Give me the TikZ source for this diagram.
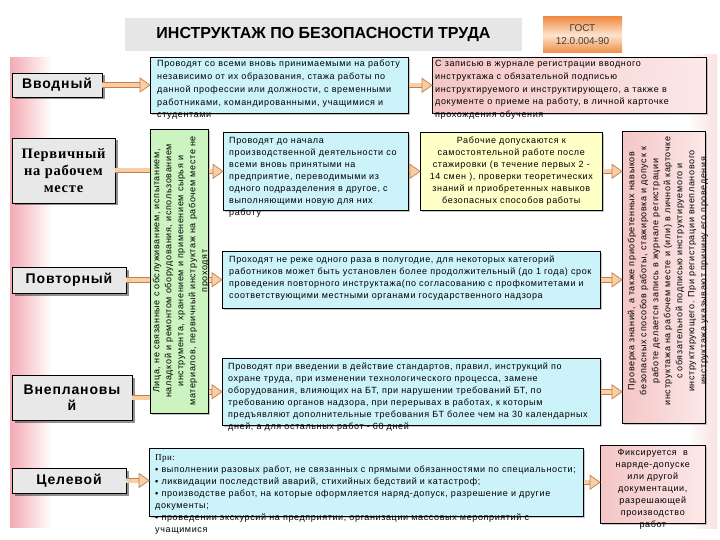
\documentclass[tikz,border=0pt]{standalone}
\usepackage{fontspec}
\setmainfont{Liberation Sans}
\newfontfamily\bodyf{Liberation Sans}[LetterSpace=7]
\newfontfamily\serifb{Liberation Serif}[LetterSpace=5]
\newfontfamily\labf{Liberation Sans}[LetterSpace=6]
\usetikzlibrary{calc,shadows}
\definecolor{bluefill}{RGB}{204,242,250}
\definecolor{pinkA}{RGB}{244,198,198}
\definecolor{pinkB}{RGB}{252,232,232}
\definecolor{yelfill}{RGB}{255,255,200}
\definecolor{grnfill}{RGB}{204,244,192}
\definecolor{grayfill}{RGB}{232,232,232}
\definecolor{peach}{RGB}{248,206,164}
\definecolor{arredge}{RGB}{196,126,78}
\definecolor{titlegray}{RGB}{230,230,230}
\definecolor{gostor}{RGB}{240,140,70}
\definecolor{gostlight}{RGB}{253,228,205}
\definecolor{strippink}{RGB}{243,170,178}
\tikzset{
  base/.style={draw=black, line width=0.6pt, inner sep=0pt, anchor=north west},
  bluebox/.style={base, fill=bluefill, drop shadow={shadow xshift=1.5pt, shadow yshift=-1.5pt, fill=black!45}},
  pinkbox/.style={base, left color=pinkA, right color=pinkB, drop shadow={shadow xshift=1.5pt, shadow yshift=-1.5pt, fill=black!45}},
  yelbox/.style={base, fill=yelfill, drop shadow={shadow xshift=1.5pt, shadow yshift=-1.5pt, fill=black!45}},
  grnbox/.style={base, fill=grnfill, drop shadow={shadow xshift=1.5pt, shadow yshift=-1.5pt, fill=black!45}},
  lbox/.style={draw=black, line width=0.6pt, fill=grayfill, inner sep=0pt, align=center,
    font=\labf\fontsize{14}{16}\selectfont\bfseries,
    drop shadow={shadow xshift=2.5pt, shadow yshift=-2.5pt, fill=black!85}},
  txt/.style={font=\bodyf\fontsize{9}{12}\selectfont, align=left, inner sep=0pt, anchor=north west},
  ctxt/.style={font=\bodyf\fontsize{9}{12}\selectfont, align=center, inner sep=0pt, anchor=north},
  rtxt/.style={font=\bodyf\fontsize{9}{12}\selectfont, align=center, inner sep=0pt, rotate=90},
  shaft/.style={draw=arredge, line width=0.7pt, double=peach, double distance=4pt},
  arrhead/.style={draw=arredge, fill=peach, line width=0.7pt, line join=miter}
}
\newcommand{\fatarrow}[2]{\draw[shaft] (#1) -- ($(#2)+(-8,0)$);\draw[arrhead] (#2) -- ++(-10,-7) -- ++(0,14) -- cycle;}
\newcommand{\fatshaft}[2]{\draw[shaft] (#1) -- (#2);}
\begin{document}
\begin{tikzpicture}[x=1pt,y=-1pt]
\useasboundingbox (0,0) rectangle (720,540);
\fill[white] (0,0) rectangle (720,540);
\shade[left color=strippink, right color=white] (10,58) rectangle (52,527);
\shade[left color=white, right color=pinkA!55] (688,55) rectangle (717,528);

% title
\node[fill=titlegray, minimum width=397pt, minimum height=33pt, inner sep=0pt,
  font=\bfseries\fontsize{16}{18}\selectfont] (title) at (323.5,34.5) {ИНСТРУКТАЖ ПО БЕЗОПАСНОСТИ ТРУДА};
\node[minimum width=79pt, minimum height=36pt, inner sep=0pt, top color=gostor, bottom color=gostor,
  middle color=gostlight, align=center, font=\fontsize{10}{13}\selectfont, text=black!75] (gost) at (582.5,35) {ГОСТ\\12.0.004-90};

% left boxes
\node[lbox, minimum width=90pt, minimum height=24pt] (vvod) at (57,85) {Вводный};
\node[lbox, minimum width=103pt, minimum height=65pt, font=\serifb\fontsize{14.5}{17}\selectfont\bfseries] (perv) at (63.5,170.5) {Первичный\\на рабочем\\месте};
\node[lbox, minimum width=114pt, minimum height=26pt] (povt) at (69,280) {Повторный};
\node[lbox, minimum width=120pt, minimum height=45pt] (vnep) at (72,397.5) {Внеплановы\\й};
\node[lbox, minimum width=114pt, minimum height=25pt] (cel) at (69,480.5) {Целевой};

% content boxes
\node[bluebox, minimum width=258pt, minimum height=56pt] (b1) at (150,57) {};
\node[pinkbox, minimum width=274pt, minimum height=56pt] (b2) at (432,57) {};
\node[grnbox, minimum width=58pt, minimum height=284pt] (grn) at (150,129) {};
\node[bluebox, minimum width=185pt, minimum height=78pt] (b3) at (223,132) {};
\node[yelbox, minimum width=182pt, minimum height=78pt] (yel) at (420,132) {};
\node[bluebox, minimum width=378pt, minimum height=57pt] (b5) at (222,251) {};
\node[bluebox, minimum width=378pt, minimum height=67pt] (b6) at (222,358) {};
\node[pinkbox, minimum width=83pt, minimum height=292pt] (pv) at (622,131) {};
\node[bluebox, minimum width=434pt, minimum height=68pt] (b7) at (149,448) {};
\node[pinkbox, minimum width=105pt, minimum height=78pt] (b8) at (600,445) {};

% texts
\node[txt, font=\bodyf\fontsize{9}{12.8}\selectfont] (b1t) at ($(b1.north west)+(7,3)$) {Проводят со всеми вновь принимаемыми на работу\\
независимо от их образования, стажа работы по\\
данной профессии или должности, с временными\\
работниками, командированными, учащимися и\\
студентами};
\node[txt, font=\bodyf\fontsize{9}{12.8}\selectfont] (b2t) at ($(b2.north west)+(3,3)$) {С записью в журнале регистрации вводного\\
инструктажа с обязательной подписью\\
инструктируемого и инструктирующего, а также в\\
документе о приеме на работу, в личной карточке\\
прохождения обучения};
\node[rtxt] (grnt) at (181,271) {Лица, не связанные с обслуживанием, испытанием,\\
наладкой и ремонтом оборудования, использованием\\
инструмента, хранением и применением сырья и\\
материалов, первичный инструктаж на рабочем месте не\\
проходят};
\node[txt] (b3t) at ($(b3.north west)+(6,5)$) {Проводят до начала\\
производственной деятельности со\\
всеми вновь принятыми на\\
предприятие, переводимыми из\\
одного подразделения в другое, с\\
выполняющими новую для них\\
работу};
\node[ctxt] (yelt) at ($(yel.north)+(0,5)$) {Рабочие допускаются к\\
самостоятельной работе после\\
стажировки (в течение первых 2 -\\
14 смен ), проверки теоретических\\
знаний и приобретенных навыков\\
безопасных способов работы};
\node[txt] (b5t) at ($(b5.north west)+(7,5)$) {Проходят не реже одного раза в полугодие, для некоторых категорий\\
работников может быть установлен более продолжительный (до 1 года) срок\\
проведения повторного инструктажа(по согласованию с профкомитетами и\\
соответствующими местными органами государственного надзора};
\node[txt] (b6t) at ($(b6.north west)+(6,5)$) {Проводят при введении в действие стандартов, правил, инструкций по\\
охране труда, при изменении технологического процесса, замене\\
оборудования, влияющих на БТ, при нарушении требований БТ, по\\
требованию органов надзора, при перерывах в работах, к которым\\
предъявляют дополнительные требования БТ более чем на 30 календарных\\
дней, а для остальных работ - 60 дней};
\node[rtxt] (pvt) at (668,271) {Проверка знаний, а также приобретенных навыков\\
безопасных способов работы, стажировка и допуск к\\
работе делается запись в журнале регистрации\\
инструктажа на рабочем месте и (или) в личной карточке\\
с обязательной подписью инструктируемого и\\
инструктирующего. При регистрации внепланового\\
инструктажа указывают причину его проведения};
\node[txt] (b7t) at ($(b7.north west)+(6,6)$) {{\serifb При:}\\
▪ выполнении разовых работ, не связанных с прямыми обязанностями по специальности;\\
▪ ликвидации последствий аварий, стихийных бедствий и катастроф;\\
▪ производстве работ, на которые оформляется наряд-допуск, разрешение и другие\\
документы;\\
▪ проведении экскурсий на предприятии, организации массовых мероприятий с\\
учащимися};
\node[ctxt] (b8t) at ($(b8.north)+(0,4)$) {Фиксируется~~в\\наряде-допуске\\или другой\\документации,\\разрешающей\\производство\\работ};

% arrows
\fatarrow{vvod.east}{b1.west |- vvod.east}
\fatarrow{b1.east}{b2.west |- b1.east}
\fatshaft{perv.east}{grn.west |- perv.east}
\fatshaft{povt.east}{grn.west |- povt.east}
\fatshaft{vnep.east}{grn.west |- vnep.east}
\fatarrow{grn.east |- b3.west}{b3.west}
\fatarrow{grn.east |- b5.west}{b5.west}
\fatarrow{grn.east |- b6.west}{b6.west}
\fatarrow{b3.east}{yel.west |- b3.east}
\fatarrow{yel.east}{pv.west |- yel.east}
\fatarrow{b5.east}{pv.west |- b5.east}
\fatarrow{b6.east}{pv.west |- b6.east}
\fatarrow{cel.east}{b7.west |- cel.east}
\fatarrow{b7.east}{b8.west |- b7.east}
\end{tikzpicture}
\end{document}
